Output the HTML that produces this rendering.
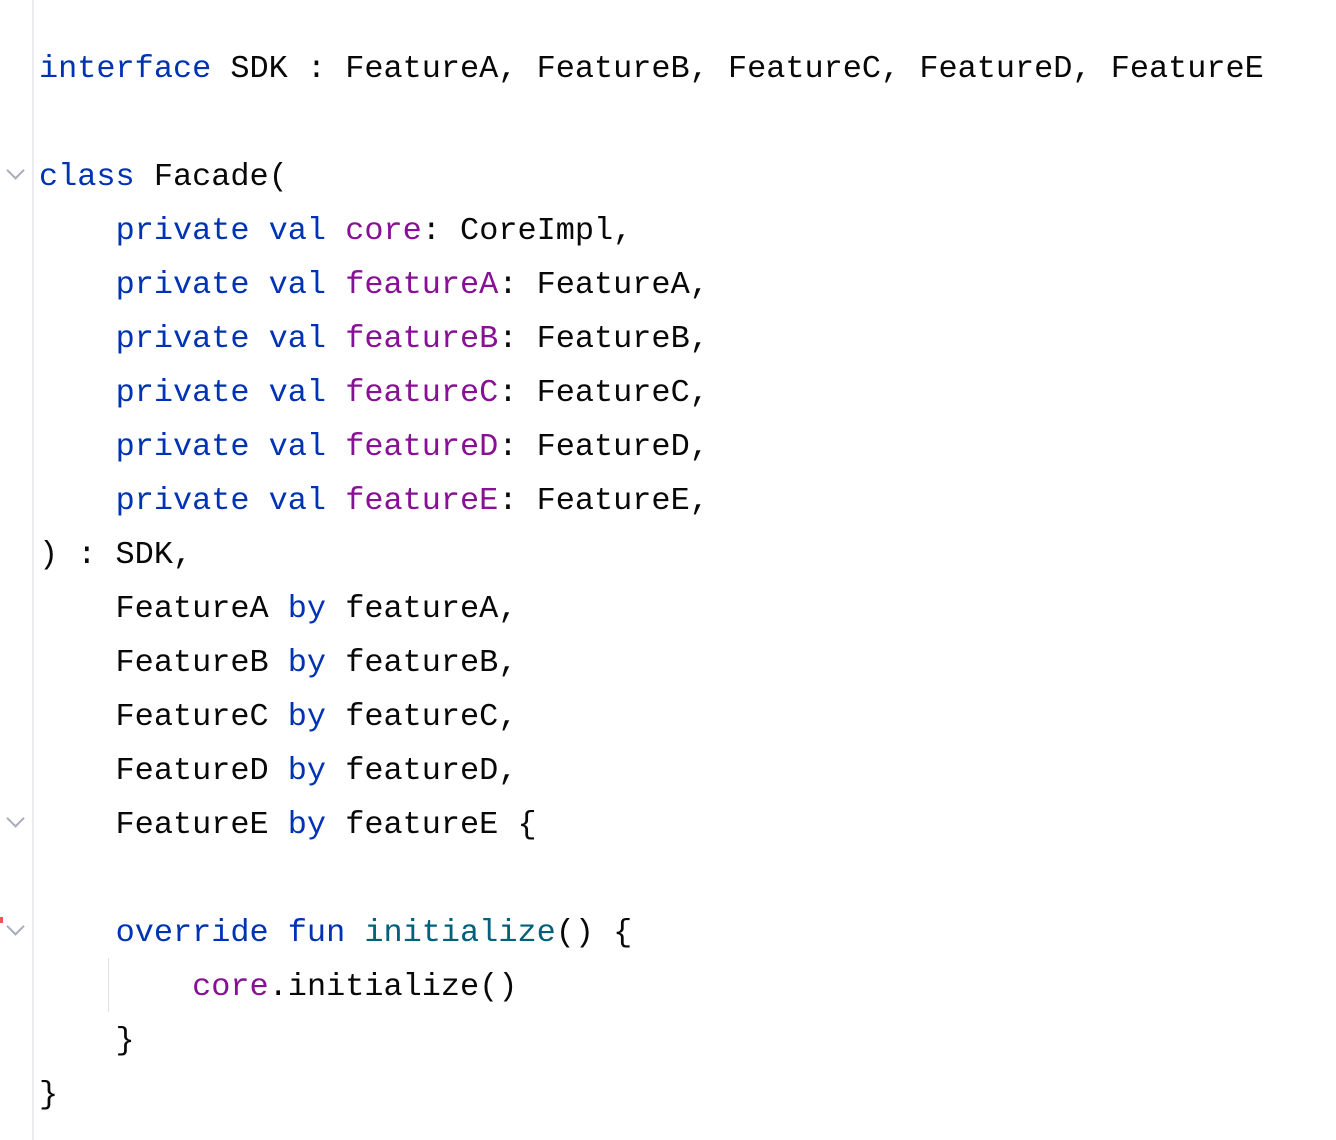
<!DOCTYPE html>
<html><head><meta charset="utf-8"><style>
html,body{margin:0;padding:0;background:#fff;width:1336px;height:1140px;overflow:hidden}
.g{position:absolute;left:32px;top:0;width:2px;height:1140px;background:#ebecf0}
.ig{position:absolute;left:108px;top:958px;width:1px;height:54px;background:#e0e0e0}
pre{position:absolute;left:39px;top:42px;margin:0;font-family:"Liberation Mono",monospace;font-size:31.9px;line-height:54px;color:#080808}
.k{color:#0033b3}.p{color:#871094}.f{color:#00627a}
.c{position:absolute;left:9px;width:11px;height:11px;border-right:2px solid #a8adbd;border-bottom:2px solid #a8adbd;transform:rotate(45deg)}
</style></head><body>
<div class="g"></div><div class="ig"></div>
<div class="c" style="top:164px"></div>
<div class="c" style="top:812px"></div>
<div class="c" style="top:920px"></div>
<div style="position:absolute;left:0;top:917px;width:3px;height:6px;background:#e55"></div>
<pre><span class="k">interface</span> SDK : FeatureA, FeatureB, FeatureC, FeatureD, FeatureE

<span class="k">class</span> Facade(
    <span class="k">private val</span> <span class="p">core</span>: CoreImpl,
    <span class="k">private val</span> <span class="p">featureA</span>: FeatureA,
    <span class="k">private val</span> <span class="p">featureB</span>: FeatureB,
    <span class="k">private val</span> <span class="p">featureC</span>: FeatureC,
    <span class="k">private val</span> <span class="p">featureD</span>: FeatureD,
    <span class="k">private val</span> <span class="p">featureE</span>: FeatureE,
) : SDK,
    FeatureA <span class="k">by</span> featureA,
    FeatureB <span class="k">by</span> featureB,
    FeatureC <span class="k">by</span> featureC,
    FeatureD <span class="k">by</span> featureD,
    FeatureE <span class="k">by</span> featureE {

    <span class="k">override fun</span> <span class="f">initialize</span>() {
        <span class="p">core</span>.initialize()
    }
}</pre>
</body></html>
